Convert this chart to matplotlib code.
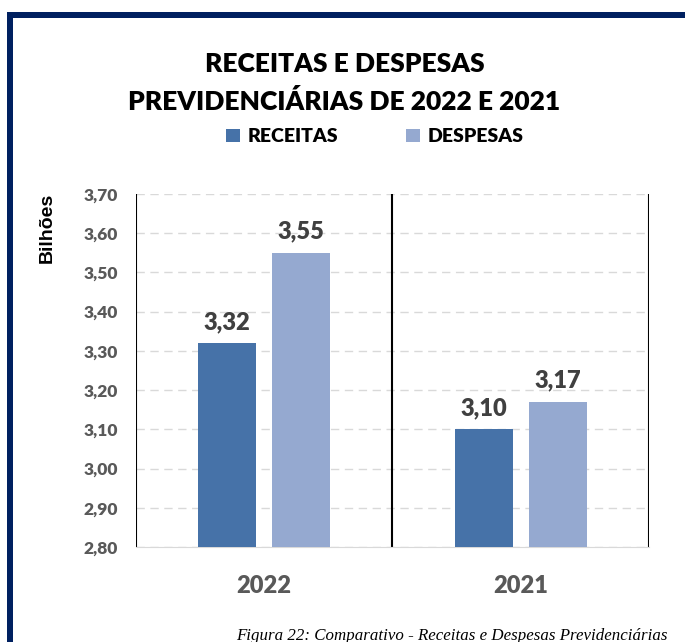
import matplotlib
matplotlib.use("Agg")
import matplotlib.pyplot as plt
from matplotlib.patches import Rectangle
import numpy as np

plt.rcParams["font.family"] = ["Lato", "DejaVu Sans"]

# dados
anos = ["2022", "2021"]
receitas = [3.32, 3.10]
despesas = [3.55, 3.17]
rotulos_receitas = ["3,32", "3,10"]
rotulos_despesas = ["3,55", "3,17"]
ticks_y = [2.80, 2.90, 3.00, 3.10, 3.20, 3.30, 3.40, 3.50, 3.60, 3.70]

cor_rec = "#4672A8"
cor_desp = "#95A9D0"
cinza = "#595959"

fig = plt.figure(figsize=(6.85, 6.42), dpi=100)
ax = fig.add_axes([0.1985, 0.148, 0.7489, 0.5498])

x = np.arange(len(anos))
w = 0.226
off = 0.144
b1 = ax.bar(x - off, receitas, w, color=cor_rec, label="RECEITAS", zorder=3)
b2 = ax.bar(x + off, despesas, w, color=cor_desp, label="DESPESAS", zorder=3)

# rótulos de dados
for bars, labs in ((b1, rotulos_receitas), (b2, rotulos_despesas)):
    for b, t in zip(bars, labs):
        ax.text(b.get_x() + b.get_width() / 2, b.get_height() + 0.036, t,
                ha="center", va="baseline", fontsize=17, fontweight="heavy",
                color="#404040")

ax.set_ylim(2.80, 3.70)
ax.set_xlim(-0.5, len(anos) - 0.5)
ax.set_yticks(ticks_y)
ax.set_yticklabels([f"{v:.2f}".replace(".", ",") for v in ticks_y],
                   fontsize=12.5, fontweight="heavy", color=cinza)
ax.set_xticks(x)
ax.set_xticklabels(anos, fontsize=17, fontweight="heavy", color=cinza)
ax.tick_params(axis="both", length=0)
ax.tick_params(axis="y", pad=13)
ax.tick_params(axis="x", pad=20)

ax.yaxis.grid(True, linestyle=(0, (6, 4)), color="#D9D9D9", linewidth=1, zorder=0)
for s in ("top", "right", "left"):
    ax.spines[s].set_visible(False)
ax.spines["bottom"].set_color("#D9D9D9")
for xv in np.arange(-0.5, len(anos), 1.0):
    ax.axvline(xv, color="black", linewidth=1.5, zorder=2)

fig.text(0.069, 0.645, "Bilhões", rotation=90, ha="center", va="center",
         fontsize=14, fontweight="bold", family=["Liberation Sans", "DejaVu Sans"])

fig.text(0.503, 1 - 72 / 642, "RECEITAS E DESPESAS",
         ha="center", va="baseline", fontsize=19, fontweight="heavy")
fig.text(0.503, 1 - 110 / 642, "PREVIDENCIÁRIAS DE 2022 E 2021",
         ha="center", va="baseline", fontsize=19, fontweight="heavy")

fig.legend(loc="center", bbox_to_anchor=(0.547, 0.787), ncol=2, frameon=False,
           prop={"size": 14, "weight": "heavy"}, handlelength=0.7,
           handleheight=0.7, handletextpad=0.4, columnspacing=3.5)

# moldura
navy = "#002060"
fig.add_artist(Rectangle((7 / 685, 0), 6 / 685, 1 - 12 / 642,
                         transform=fig.transFigure, color=navy, lw=0))
fig.add_artist(Rectangle((7 / 685, 1 - 18 / 642), 1, 6 / 642,
                         transform=fig.transFigure, color=navy, lw=0))

fig.text(236 / 685, 1 - 640 / 642,
         "Figura 22: Comparativo - Receitas e Despesas Previdenciárias",
         ha="left", va="baseline", fontsize=12.2, style="italic",
         family=["Liberation Serif", "DejaVu Serif"])

fig.savefig("out.png", dpi=100)
